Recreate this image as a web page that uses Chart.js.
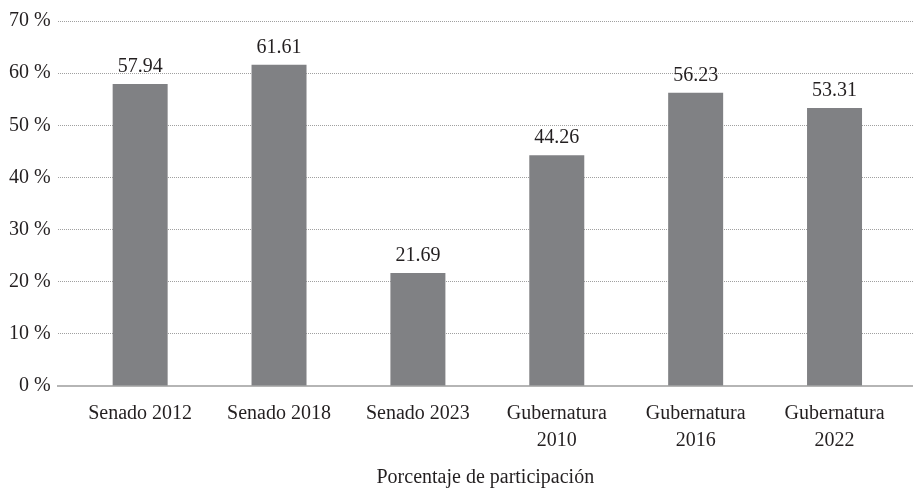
<!DOCTYPE html>
<html>
<head>
<meta charset="utf-8">
<script src="https://cdn.jsdelivr.net/npm/chart.js@4/dist/chart.umd.min.js"></script>
<style>
  html, body { margin: 0; padding: 0; background: #ffffff; }
  #wrap { width: 913px; height: 488px; position: relative; }
</style>
</head>
<body>
<div id="wrap"><canvas id="c"></canvas></div>
<script>
// Participation by election
const categories = [
  ["Senado 2012"],
  ["Senado 2018"],
  ["Senado 2023"],
  ["Gubernatura", "2010"],
  ["Gubernatura", "2016"],
  ["Gubernatura", "2022"]
];
const participation = [57.94, 61.61, 21.69, 44.26, 56.23, 53.31];
const yTicks = [0, 10, 20, 30, 40, 50, 60, 70];
const axisTitle = "Porcentaje de participación";

const FONT = "'Liberation Serif', 'Times New Roman', serif";
const TEXT = "#231f20";
const BAR = "#808184";

const points = participation.map((v, i) => ({ x: i, y: v }));

// Value written above each bar
const valueLabels = {
  id: "valueLabels",
  afterDatasetsDraw(chart) {
    const { ctx } = chart;
    const meta = chart.getDatasetMeta(0);
    ctx.save();
    ctx.font = "20px " + FONT;
    ctx.fillStyle = TEXT;
    ctx.textAlign = "center";
    ctx.textBaseline = "alphabetic";
    meta.data.forEach((bar, i) => {
      ctx.fillText(participation[i].toFixed(2), bar.x, bar.y - 12);
    });
    ctx.restore();
  }
};

new Chart(document.getElementById("c"), {
  type: "bar",
  data: {
    datasets: [{
      data: points,
      backgroundColor: BAR,
      borderWidth: 0,
      categoryPercentage: 1,
      barPercentage: 0.396
    }]
  },
  options: {
    responsive: true,
    maintainAspectRatio: false,
    animation: false,
    layout: { padding: { top: 21, right: 0, left: 2, bottom: 0 } },
    plugins: {
      legend: { display: false },
      tooltip: { enabled: false }
    },
    scales: {
      x: {
        type: "linear",
        offset: false,
        min: -0.594,
        max: 5.565,
        afterBuildTicks(scale) {
          scale.ticks = categories.map((_, i) => ({ value: i }));
        },
        ticks: {
          autoSkip: false,
          maxRotation: 0,
          padding: 14,
          color: TEXT,
          font: { family: FONT, size: 20, lineHeight: 1.35 },
          callback: (v) => categories[v]
        },
        grid: { display: false, drawTicks: false },
        border: { display: true, color: "#b5b5b5", width: 2 },
        title: {
          display: true,
          text: axisTitle,
          color: TEXT,
          font: { family: FONT, size: 20, lineHeight: 1.0 },
          padding: { top: 0, bottom: 0 }
        }
      },
      y: {
        min: 0,
        max: 70,
        afterBuildTicks(scale) {
          scale.ticks = yTicks.map((v) => ({ value: v }));
        },
        ticks: {
          padding: 7,
          color: TEXT,
          font: { family: FONT, size: 20 },
          callback: (v) => v + " %"
        },
        grid: {
          drawTicks: false,
          color: (c) => (c.tick && c.tick.value === 0 ? "rgba(0,0,0,0)" : "#a0a0a0"),
          lineWidth: 1
        },
        border: { display: false, dash: [1, 1] }
      }
    }
  },
  plugins: [valueLabels]
});
</script>
</body>
</html>
